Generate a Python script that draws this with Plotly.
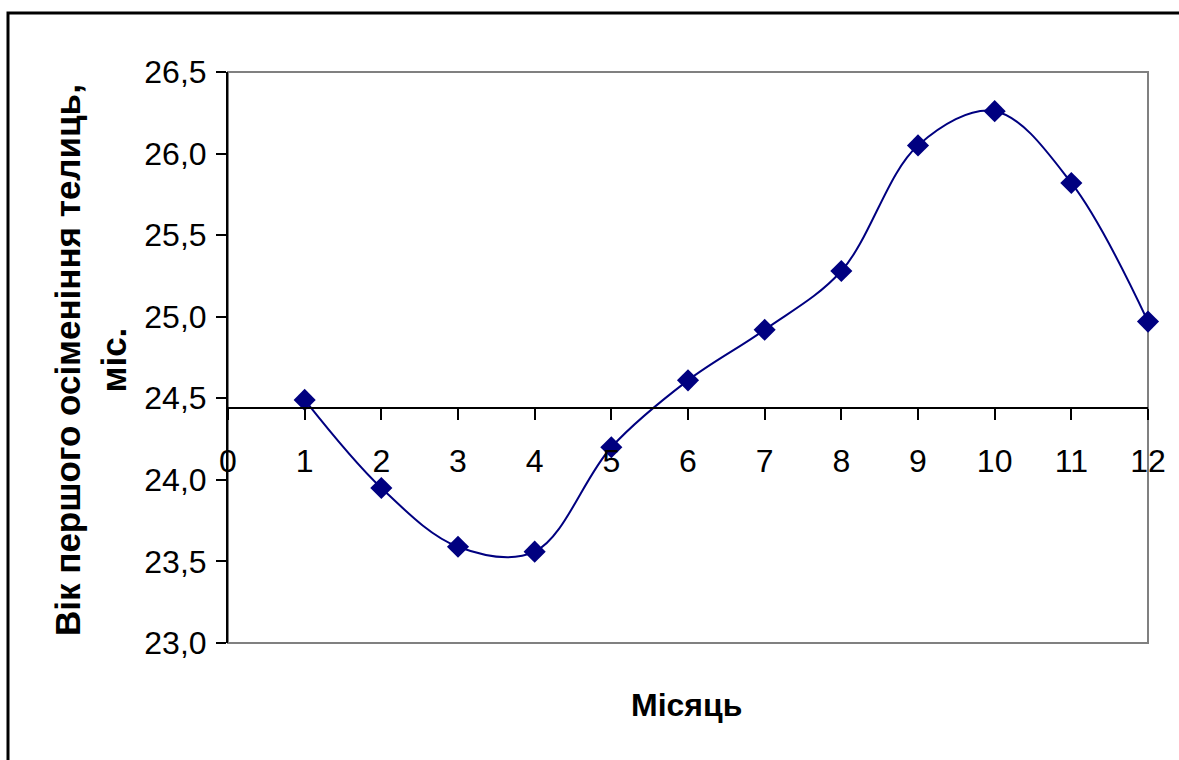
import plotly.graph_objects as go

months = [1, 2, 3, 4, 5, 6, 7, 8, 9, 10, 11, 12]
age_values = [24.49, 23.95, 23.59, 23.56, 24.20, 24.61, 24.92, 25.28, 26.05, 26.26, 25.82, 24.97]
y_ticks = [23.0, 23.5, 24.0, 24.5, 25.0, 25.5, 26.0, 26.5]
x_ticks = list(range(0, 13))
x_axis_cross = 24.44

y_min, y_max = 23.0, 26.5
W, H = 1179, 760
L, R, T, B = 228, 31, 72, 117

fig = go.Figure()
fig.add_trace(go.Scatter(
    x=months, y=age_values, mode="lines+markers",
    line=dict(color="#000080", width=2, shape="spline", smoothing=1.0),
    marker=dict(symbol="diamond", size=17, color="#000080"),
    cliponaxis=False, showlegend=False,
))

font_family = "Liberation Sans, Arial, sans-serif"
cross_pos = (x_axis_cross - y_min) / (y_max - y_min)

fig.update_layout(
    width=W, height=H, autosize=False,
    margin=dict(l=L, r=R, t=T, b=B, pad=0),
    paper_bgcolor="white", plot_bgcolor="white",
    separators=", ",
    font=dict(family=font_family, size=32, color="black"),
    xaxis=dict(
        range=[0, 12], tickvals=x_ticks, ticktext=[str(v) for v in x_ticks],
        showgrid=False, zeroline=False,
        showline=True, linecolor="black", linewidth=2,
        ticks="outside", ticklen=11, tickwidth=2, tickcolor="black",
        anchor="free", position=cross_pos,
        tickfont=dict(size=32, family=font_family),
        ticklabelstandoff=14,
    ),
    yaxis=dict(
        range=[y_min, y_max], tickvals=y_ticks, tickformat=".1f",
        showgrid=False, zeroline=False,
        showline=True, linecolor="black", linewidth=2,
        ticks="outside", ticklen=10, tickwidth=2, tickcolor="black",
        tickfont=dict(size=32, family=font_family),
        ticklabelstandoff=3,
    ),
    shapes=[
        dict(type="rect", xref="paper", yref="paper", x0=0, x1=1, y0=0, y1=1,
             line=dict(color="#808080", width=2), fillcolor="rgba(0,0,0,0)", layer="below"),
        dict(type="rect", xref="paper", yref="paper",
             x0=(8 - L) / (W - L - R), x1=2.0,
             y0=-1.0, y1=(H - B - 13) / (H - T - B),
             line=dict(color="black", width=3), fillcolor="rgba(0,0,0,0)", layer="below"),
    ],
    annotations=[
        dict(text="<b>Місяць</b>", xref="paper", yref="paper",
             x=(686 - L) / (W - L - R), y=(H - B - 705) / (H - T - B),
             xanchor="center", yanchor="middle", showarrow=False,
             font=dict(size=32, family=font_family)),
        dict(text="<b>Вік першого осіменіння телиць,<br>міс.</b>", xref="paper", yref="paper",
             x=(90 - L) / (W - L - R), y=(H - B - 360) / (H - T - B),
             xanchor="center", yanchor="middle", showarrow=False, textangle=-90,
             font=dict(size=35, family=font_family)),
    ],
)

fig.write_html("out.html")
